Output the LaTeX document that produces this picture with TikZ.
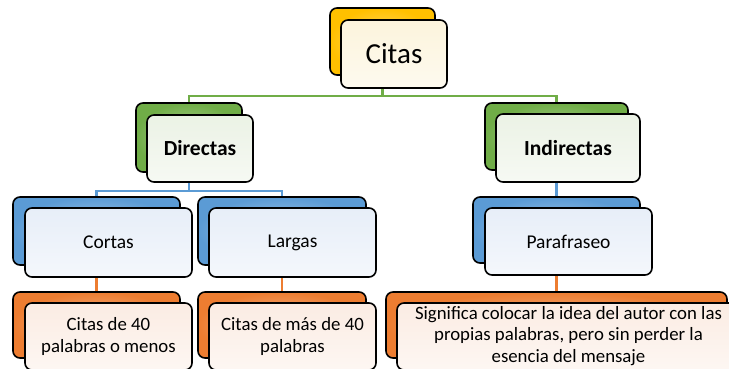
\documentclass[tikz,border=0pt]{standalone}
\usepackage{fontspec}
\setmainfont{Carlito}
\usetikzlibrary{backgrounds}
\definecolor{cYel}{HTML}{FFC000}
\definecolor{cGrn}{HTML}{70AD47}
\definecolor{cBlu}{HTML}{5B9BD5}
\definecolor{cOrg}{HTML}{ED7D31}
\definecolor{tYel}{HTML}{FCF4DC}
\definecolor{tGrn}{HTML}{EBF2E5}
\definecolor{tBlu}{HTML}{E7EEF8}
\definecolor{tOrg}{HTML}{FBECE3}
\tikzset{
  box/.style={draw=black, line width=1.6pt, rounded corners=7pt, inner sep=0pt, align=center, text=black},
  backbox/.style={box, inner color=#1!55!white, outer color=#1},
  frontbox/.style={box, top color=#1, bottom color=#1!45!white},
  conn/.style={line width=2.5pt, draw=#1},
  bigtxt/.style={font=\fontsize{29}{33}\selectfont},
  midtxt/.style={font=\fontsize{19.5}{23}\selectfont},
  boldtxt/.style={font=\fontsize{21.5}{25}\selectfont\bfseries},
  smalltxt/.style={font=\fontsize{18.8}{22.3}\selectfont},
  tighttxt/.style={font=\fontsize{18.8}{21.8}\selectfont},
}
\begin{document}
\begin{tikzpicture}[x=1pt,y=-1pt]
\clip (0,0) rectangle (729,368);
\useasboundingbox (0,0) rectangle (729,368);
% level 0
\node[backbox=cYel, minimum width=105pt, minimum height=67pt] (citasB) at (382.5,41.5) {};
\node[frontbox=tYel, minimum width=106pt, minimum height=68pt, bigtxt] (citasF) at (394,54) {Citas};
% level 1
\node[backbox=cGrn, minimum width=106pt, minimum height=69pt] (dirB) at (189,137.5) {};
\node[frontbox=tGrn, minimum width=106pt, minimum height=67pt, boldtxt] (dirF) at (200,148.5) {Directas};
\node[backbox=cGrn, minimum width=143pt, minimum height=67pt] (indB) at (556.5,136.5) {};
\node[frontbox=tGrn, minimum width=144pt, minimum height=68pt, boldtxt] (indF) at (568,148) {Indirectas};
% level 2
\node[backbox=cBlu, minimum width=167pt, minimum height=68pt] (corB) at (96.5,231) {};
\node[frontbox=tBlu, minimum width=167pt, minimum height=69pt, midtxt] (corF) at (108.5,242.5) {Cortas};
\node[backbox=cBlu, minimum width=168pt, minimum height=68pt] (larB) at (282,231) {};
\node[frontbox=tBlu, minimum width=167pt, minimum height=69pt, midtxt] (larF) at (292.5,242.5) {Largas};
\node[backbox=cBlu, minimum width=167pt, minimum height=66pt] (parB) at (556.5,230) {};
\node[frontbox=tBlu, minimum width=167pt, minimum height=67pt, midtxt] (parF) at (568.5,241.5) {Parafraseo};
% level 3
\node[backbox=cOrg, minimum width=167pt, minimum height=66pt] (blB) at (96.5,325) {};
\node[frontbox=tOrg, minimum width=167pt, minimum height=67pt, smalltxt] (blF) at (108.5,336.5) {Citas de 40\\palabras o menos};
\node[backbox=cOrg, minimum width=168pt, minimum height=66pt] (bmB) at (282,325) {};
\node[frontbox=tOrg, minimum width=167pt, minimum height=67pt, smalltxt] (bmF) at (292.5,336.5) {Citas de más de 40\\palabras};
\node[backbox=cOrg, minimum width=341pt, minimum height=66pt] (brB) at (556.5,325) {};
\node[frontbox=tOrg, minimum width=343pt, minimum height=67pt] (brF) at (568.5,336.5) {};
\node[tighttxt, align=center, inner sep=0pt] (brT) at (568.5,336) {Significa colocar la idea del autor con las\\propias palabras, pero sin perder la\\esencia del mensaje};
% connectors
\begin{pgfonlayer}{background}
\coordinate (gbus) at (382.5,96);
\coordinate (bbus) at (189,191);
\draw[conn=cGrn] (citasB.south) -- (gbus) -| (dirB.north);
\draw[conn=cGrn] (gbus) -| (indB.north);
\draw[conn=cBlu] (dirB.south) -- (bbus) -| (corB.north);
\draw[conn=cBlu] (bbus) -| (larB.north);
\draw[conn=cBlu] (indB.south) -- (parB.north);
\draw[conn=cOrg] (corB.south) -- (blB.north);
\draw[conn=cOrg] (larB.south) -- (bmB.north);
\draw[conn=cOrg] (parB.south) -- (brB.north);
\end{pgfonlayer}
\end{tikzpicture}
\end{document}
